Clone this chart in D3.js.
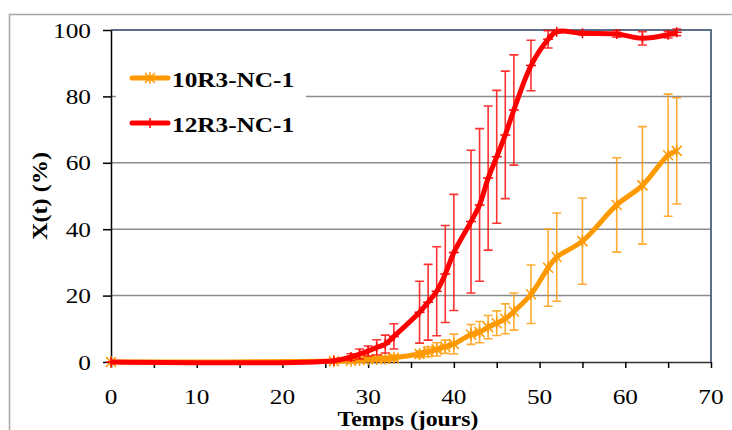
<!DOCTYPE html>
<html><head><meta charset="utf-8">
<script src="https://cdn.jsdelivr.net/npm/d3@7"></script>
<style>body{margin:0;background:#fff}svg{display:block}text{font-family:"Liberation Serif","Times New Roman",serif;fill:#000}</style>
</head><body>
<svg id="chart" width="732" height="430"></svg>
<script>
const seriesNames = ["10R3-NC-1", "12R3-NC-1"];
const days = [0,26,28,29,30,31,32,33,36,37,38,39,40,42,43,44,45,46,47,49,51,52,55,59,62,65,66];
const values10 = [0,0.2,0.4,0.6,0.8,0.9,1.0,1.3,2.4,3.1,3.8,4.6,5.4,8.3,9.0,10.5,11.7,13.0,15.2,20.4,28.4,31.6,36.4,47.3,53.2,62.3,63.6];
const err10 = [0,0.3,0.5,0.5,0.6,0.6,0.7,0.8,1.0,1.5,2.0,2.0,3.0,3.0,3.2,3.5,3.7,4.5,5.6,8.8,11.6,13.3,13.0,14.2,17.7,18.4,16.0];
const values12 = [0,0.4,1.5,2.4,3.3,4.4,5.4,7.7,15,18,21.3,26.5,33,42.3,47.3,55.4,61.8,68.4,75.9,89.3,97.2,99.5,99,98.8,97.5,98.6,99.3];
const err12 = [0,0.3,1.0,1.5,1.5,2.3,2.7,3.8,9.3,11.4,13.4,14.6,17.5,21.5,23,21.7,20,19.2,16.6,7.6,2.6,0.5,0.5,1,2,1,1];
const xTickValues = [0,5,10,15,20,25,30,35,40,45,50,55,60,65,70];
const xTickLabels = [0,10,20,30,40,50,60,70];
const yTickLabels = [0,20,40,60,80,100];
const colors = ["#ff9900", "#ff0000"];

const svg = d3.select("#chart");
const x = d3.scaleLinear().domain([0,70]).range([111,711]);
const y = d3.scaleLinear().domain([0,100]).range([362,30]);

// outer chart frame
svg.append("rect").attr("x",9.5).attr("y",14.5).attr("width",900).attr("height",600)
  .attr("fill","none").attr("stroke","#a6a6a6").attr("stroke-width",1.5);

// gridlines
svg.append("g").selectAll("line").data(yTickLabels.filter(v=>v>0&&v<100)).join("line")
  .attr("x1",x(0)).attr("x2",x(70)).attr("y1",d=>y(d)).attr("y2",d=>y(d))
  .attr("stroke","#8c8c8c").attr("stroke-width",1.5);

// plot-area border top/right
svg.append("path").attr("d",`M${x(0)},${y(100)}H${x(70)}V${y(0)}`)
  .attr("fill","none").attr("stroke","#5b6e88").attr("stroke-width",2);

// axes
const xAxis = svg.append("g").attr("transform",`translate(0,${y(0)})`)
  .call(d3.axisBottom(x).tickValues(xTickValues).tickSize(6).tickSizeOuter(0).tickFormat(""));
xAxis.select(".domain").attr("stroke","#333").attr("stroke-width",1.5);
xAxis.selectAll(".tick line").attr("stroke","#000").attr("stroke-width",1.5);
const yAxis = svg.append("g").attr("transform",`translate(${x(0)},0)`)
  .call(d3.axisLeft(y).tickValues(yTickLabels).tickSize(8).tickSizeOuter(0).tickFormat(""));
yAxis.select(".domain").attr("stroke","#000").attr("stroke-width",1.5);
yAxis.selectAll(".tick line").attr("stroke","#000").attr("stroke-width",1.5);

// tick labels
svg.append("g").selectAll("text").data(xTickLabels).join("text")
  .attr("transform",d=>`translate(${x(d)},404) scale(1.15,1)`)
  .attr("text-anchor","middle").style("font-size","22px").text(d=>d);
svg.append("g").selectAll("text").data(yTickLabels).join("text")
  .attr("transform",d=>`translate(91,${y(d)+7.5}) scale(1.15,1)`)
  .attr("text-anchor","end").style("font-size","22px").text(d=>d);

// axis titles
svg.append("text").attr("transform","translate(408,426) scale(1.08,1)")
  .attr("text-anchor","middle").style("font-size","22px").style("font-weight","bold").text("Temps (jours)");
svg.append("text").attr("transform","translate(47,196) rotate(-90) scale(1.1,1)")
  .attr("text-anchor","middle").style("font-size","22px").style("font-weight","bold").text("X(t) (%)");

const line = d3.line().x(d=>x(d[0])).y(d=>y(d[1])).curve(d3.curveCatmullRom.alpha(0.5));
const seriesData = [
  days.map((d,i)=>[d,values10[i],err10[i]]),
  days.map((d,i)=>[d,values12[i],err12[i]])
];

function asterisk(g, cx, cy, col){
  const s=5;
  g.append("path").attr("d",`M${cx-s},${cy-s}L${cx+s},${cy+s}M${cx-s},${cy+s}L${cx+s},${cy-s}M${cx},${cy-s-1}V${cy+s+1}`)
    .attr("stroke",col).attr("stroke-width",1.5).attr("fill","none");
}
function plus(g, cx, cy, col){
  const s=5;
  g.append("path").attr("d",`M${cx-s},${cy}H${cx+s}M${cx},${cy-s}V${cy+s}`)
    .attr("stroke",col).attr("stroke-width",1.5).attr("fill","none");
}

seriesData.forEach((data,si)=>{
  const col = colors[si];
  const g = svg.append("g");
  const eb = g.append("g").attr("stroke",col).attr("stroke-width",1.6).attr("opacity",0.8);
  data.filter(d=>d[2]>0).forEach(d=>{
    const cx=x(d[0]), y1=y(Math.min(100.5,d[1]+d[2])), y2=y(d[1]-d[2]);
    eb.append("path").attr("d",`M${cx},${y1}V${y2}M${cx-4.5},${y1}H${cx+4.5}M${cx-4.5},${y2}H${cx+4.5}`).attr("fill","none");
  });
  g.append("path").datum(data).attr("d",line).attr("fill","none")
    .attr("stroke",col).attr("stroke-width",5).attr("stroke-linejoin","round");
  const mg = g.append("g");
  data.forEach(d=>{ si===0 ? asterisk(mg,x(d[0]),y(d[1]),col) : plus(mg,x(d[0]),y(d[1]),col); });
});

// legend
const lg = svg.append("g");
lg.append("rect").attr("x",116).attr("y",52).attr("width",190).attr("height",95).attr("fill","#fff");
[78,123].forEach((ly,i)=>{
  lg.append("line").attr("x1",132).attr("x2",168).attr("y1",ly).attr("y2",ly)
    .attr("stroke",colors[i]).attr("stroke-width",5).attr("stroke-linecap","round");
  i===0 ? asterisk(lg,150,ly,colors[i]) : plus(lg,150,ly,colors[i]);
  lg.append("text").attr("transform",`translate(172,${ly+8.5}) scale(1.15,1)`)
    .style("font-size","22px").style("font-weight","bold").text(seriesNames[i]);
});
</script>
</body></html>
